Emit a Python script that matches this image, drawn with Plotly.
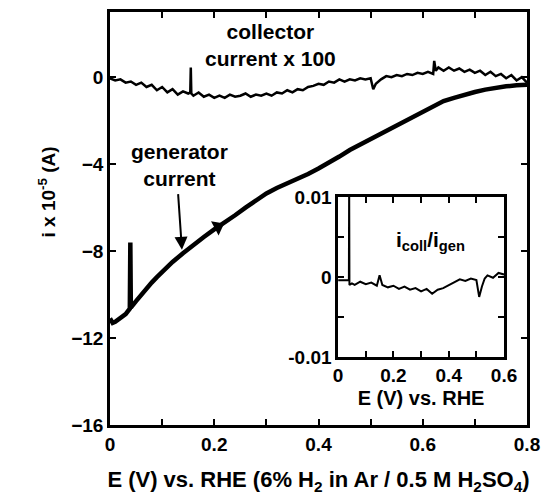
import plotly.graph_objects as go

# Generator current (x 1e-5 A) vs E (V)
gen_E = [0.000, 0.005, 0.010, 0.020, 0.030, 0.038, 0.039, 0.040, 0.050, 0.060,
         0.070, 0.080, 0.090, 0.100, 0.120, 0.140, 0.160, 0.180, 0.200, 0.220,
         0.240, 0.260, 0.280, 0.300, 0.320, 0.340, 0.360, 0.380, 0.400, 0.420,
         0.440, 0.460, 0.480, 0.500, 0.520, 0.540, 0.560, 0.580, 0.600, 0.620,
         0.640, 0.660, 0.680, 0.700, 0.720, 0.740, 0.760, 0.780, 0.800]
gen_i = [-11.1, -11.3, -11.25, -11.1, -10.9, -10.65, -7.6, -10.6, -10.3, -10.0,
         -9.7, -9.45, -9.2, -8.95, -8.5, -8.1, -7.7, -7.35, -7.0, -6.7,
         -6.35, -6.0, -5.65, -5.35, -5.1, -4.9, -4.7, -4.45, -4.2, -3.95,
         -3.65, -3.35, -3.1, -2.85, -2.6, -2.3, -2.05, -1.8, -1.55, -1.3,
         -1.1, -0.95, -0.8, -0.68, -0.57, -0.48, -0.42, -0.37, -0.35]

# Collector current x 100
coll_E = [0.00, 0.01, 0.02, 0.03, 0.04, 0.05, 0.06, 0.07, 0.08, 0.09,
          0.10, 0.11, 0.12, 0.13, 0.14, 0.15, 0.154, 0.155, 0.156, 0.16,
          0.17, 0.18, 0.19, 0.20, 0.21, 0.22, 0.23, 0.24, 0.25, 0.26,
          0.27, 0.28, 0.29, 0.30, 0.31, 0.32, 0.33, 0.34, 0.35, 0.36,
          0.37, 0.38, 0.39, 0.40, 0.41, 0.42, 0.43, 0.44, 0.45, 0.46,
          0.47, 0.48, 0.49, 0.50, 0.505, 0.51, 0.52, 0.53, 0.54, 0.55,
          0.56, 0.57, 0.58, 0.59, 0.60, 0.61, 0.62, 0.622, 0.625, 0.63,
          0.64, 0.65, 0.66, 0.67, 0.68, 0.69, 0.70, 0.71, 0.72, 0.73,
          0.74, 0.75, 0.76, 0.77, 0.78, 0.79, 0.80]
coll_i = [-0.05, -0.15, -0.10, -0.25, -0.20, -0.35, -0.25, -0.45, -0.35, -0.60,
          -0.45, -0.70, -0.55, -0.80, -0.65, -0.75, -0.70, 0.45, -0.75, -0.85,
          -0.70, -0.90, -0.80, -0.95, -0.85, -0.95, -0.80, -0.90, -0.85, -0.75,
          -0.90, -0.80, -0.85, -0.75, -0.85, -0.70, -0.75, -0.60, -0.70, -0.55,
          -0.60, -0.45, -0.40, -0.30, -0.35, -0.20, -0.25, -0.10, -0.20, -0.10,
          -0.15, -0.05, -0.10, -0.05, -0.55, -0.30, -0.10, 0.05, 0.00, 0.10,
          0.05, 0.15, 0.10, 0.20, 0.15, 0.25, 0.15, 0.75, 0.30, 0.45,
          0.30, 0.45, 0.30, 0.40, 0.25, 0.35, 0.20, 0.30, 0.10, 0.25,
          0.05, 0.15, -0.05, 0.10, -0.15, 0.00, -0.25]

# Ratio i_coll / i_gen (inset)
ratio_E = [0.00, 0.02, 0.039, 0.040, 0.041, 0.05, 0.06, 0.08, 0.10, 0.12,
           0.14, 0.15, 0.16, 0.18, 0.20, 0.22, 0.24, 0.26, 0.28, 0.30,
           0.32, 0.34, 0.36, 0.38, 0.40, 0.42, 0.44, 0.46, 0.48, 0.50,
           0.51, 0.52, 0.53, 0.54, 0.56, 0.58, 0.60]
ratio = [-0.0004, -0.0004, -0.0004, 0.012, -0.0010, -0.0008, -0.0010, -0.0006, -0.0009, -0.0007,
         -0.0011, 0.0002, -0.0010, -0.0013, -0.0011, -0.0015, -0.0012, -0.0016, -0.0014, -0.0018,
         -0.0015, -0.0021, -0.0016, -0.0014, -0.0010, -0.0006, -0.0003, -0.0005, -0.0002, -0.0004,
         -0.0025, -0.0012, -0.0002, 0.0002, -0.0001, 0.0005, 0.0003]

# Sweep-direction marker on the generator curve
dir_E = [0.207]
dir_i = [-6.88]

main_xticks = [0, 0.2, 0.4, 0.6, 0.8]
main_yticks = [-16, -12, -8, -4, 0]
inset_xticks = [0, 0.2, 0.4, 0.6]
inset_yticks = [-0.01, 0, 0.01]

FONT = "Liberation Sans, Arial, sans-serif"
TICKFONT = dict(family=FONT, size=19, color="black", weight="bold")
ANNFONT = dict(family=FONT, size=21, color="black", weight="bold")

fig = go.Figure()
fig.add_trace(go.Scatter(x=gen_E, y=gen_i, mode="lines",
                         line=dict(color="black", width=4.5), xaxis="x", yaxis="y"))
fig.add_trace(go.Scatter(x=coll_E, y=coll_i, mode="lines",
                         line=dict(color="black", width=2.5), xaxis="x", yaxis="y"))
fig.add_trace(go.Scatter(x=dir_E, y=dir_i, mode="markers",
                         marker=dict(symbol="triangle-right", size=14, color="black", angle=-28),
                         xaxis="x", yaxis="y"))
fig.add_trace(go.Scatter(x=ratio_E, y=ratio, mode="lines",
                         line=dict(color="black", width=2), xaxis="x2", yaxis="y2"))

axis_common = dict(showgrid=False, zeroline=False, showline=True, linecolor="black",
                   linewidth=2.5, mirror="ticks", ticks="inside", tickcolor="black",
                   tickwidth=1.5, ticklen=6, tickfont=TICKFONT, automargin=False)
minor_common = dict(ticks="inside", ticklen=6, tickwidth=1.5, tickcolor="black")

fig.update_layout(
    width=542, height=499,
    margin=dict(l=110, r=15, t=12, b=74),
    paper_bgcolor="white", plot_bgcolor="white",
    showlegend=False,
    font=dict(family=FONT, size=19, color="black"),
    xaxis=dict(range=[0, 0.8], tickvals=main_xticks, ticktext=["0", "0.2", "0.4", "0.6", "0.8"],
               minor=dict(dtick=0.1, **minor_common),
               title=dict(text="E (V) vs. RHE (6% H<sub>2</sub> in Ar / 0.5 M H<sub>2</sub>SO<sub>4</sub>)",
                          font=dict(family=FONT, size=22, weight="bold"), standoff=19),
               **axis_common),
    yaxis=dict(range=[-16, 3], tickvals=main_yticks, **axis_common),
    xaxis2=dict(domain=[0.547, 0.945], anchor="y2", range=[0, 0.6], tickvals=inset_xticks,
                ticktext=["0", "0.2", "0.4", "0.6"],
                minor=dict(dtick=0.1, **minor_common),
                title=dict(text="E (V) vs. RHE", font=dict(family=FONT, size=20, weight="bold"),
                           standoff=6),
                **axis_common),
    yaxis2=dict(domain=[0.165, 0.552], anchor="x2", range=[-0.01, 0.01], tickvals=inset_yticks,
                ticktext=["-0.01", "0", "0.01"],
                minor=dict(dtick=0.005, **minor_common),
                **axis_common),
    annotations=[
        dict(text="i x 10<sup>-5</sup> (A)", xref="paper", yref="paper", x=-0.185, y=0.565,
             textangle=-90, showarrow=False, font=dict(family=FONT, size=19, weight="bold")),
        dict(text="collector<br>current x 100", xref="x", yref="y", x=0.307, y=1.5,
             showarrow=False, font=ANNFONT),
        dict(text="generator<br>current", xref="x", yref="y", x=0.134, y=-4.03,
             showarrow=False, font=ANNFONT),
        dict(text="", xref="x", yref="y", x=0.138, y=-7.94, ax=0.1305, ay=-5.31,
             axref="x", ayref="y", showarrow=True, arrowhead=2, arrowsize=1.3,
             arrowwidth=2, arrowcolor="black"),
        dict(text="i<sub>coll</sub>/i<sub>gen</sub>", xref="x2", yref="y2", x=0.333, y=0.0045,
             showarrow=False, font=ANNFONT),
    ],
)

fig.write_html("out.html", config={"displayModeBar": False},
               post_script="document.body.style.margin='0px';document.body.style.overflow='hidden';")
